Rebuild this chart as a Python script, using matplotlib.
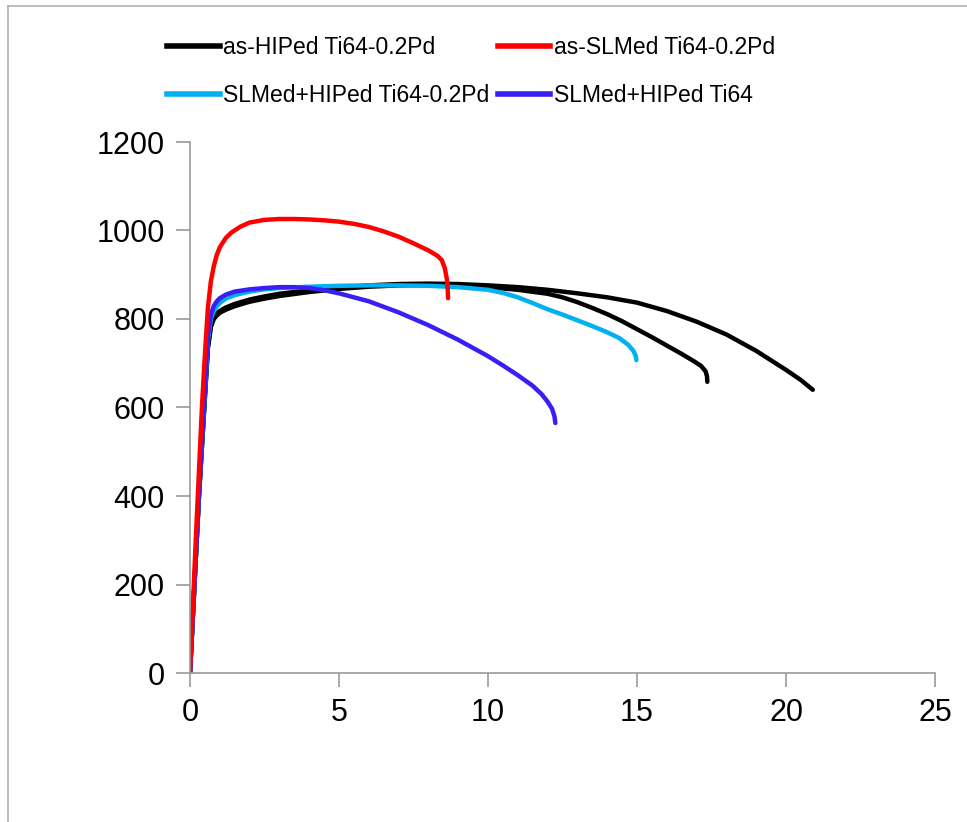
import matplotlib
matplotlib.use("Agg")
import matplotlib.pyplot as plt
from matplotlib.lines import Line2D

plt.rcParams['font.family'] = ['Liberation Sans', 'DejaVu Sans']

# as-HIPed Ti64-0.2Pd, specimen 1 (longer elongation)
hip1_strain = [0, 0.3, 0.6, 0.7, 0.8, 0.9, 1.0, 1.2, 1.5, 2, 2.5, 3, 4, 5, 6, 7, 8, 9, 10, 11, 12, 13, 14, 15, 16, 17, 18, 19, 20, 20.5, 20.9]
hip1_stress = [0, 400, 735, 785, 805, 813, 818, 826, 834, 844, 851, 857, 865, 871, 876, 879, 880, 879, 876, 872, 866, 858, 849, 837, 818, 794, 765, 728, 685, 662, 640]
# as-HIPed Ti64-0.2Pd, specimen 2
hip2_strain = [0, 0.3, 0.6, 0.7, 0.8, 0.9, 1.0, 1.2, 1.5, 2, 2.5, 3, 4, 5, 6, 7, 8, 9, 10, 11, 12, 12.5, 13, 13.5, 14, 14.5, 15, 15.5, 16, 16.5, 16.9, 17.15, 17.3, 17.35, 17.36]
hip2_stress = [0, 400, 735, 782, 800, 808, 814, 821, 829, 839, 846, 852, 861, 868, 873, 876, 877, 876, 872, 866, 857, 849, 838, 825, 811, 795, 777, 759, 740, 721, 705, 694, 682, 670, 658]
# as-SLMed Ti64-0.2Pd
slm_strain = [0, 0.2, 0.4, 0.5, 0.6, 0.7, 0.8, 0.9, 1.0, 1.2, 1.4, 1.7, 2, 2.5, 3, 3.5, 4, 4.5, 5, 5.5, 6, 6.5, 7, 7.5, 8, 8.3, 8.45, 8.55, 8.62, 8.65, 8.66]
slm_stress = [0, 310, 600, 720, 825, 885, 920, 945, 962, 983, 996, 1009, 1018, 1024, 1026, 1026, 1025, 1023, 1020, 1015, 1008, 998, 986, 971, 955, 943, 933, 915, 890, 865, 847]
# SLMed+HIPed Ti64-0.2Pd
slmhip_strain = [0, 0.3, 0.6, 0.7, 0.8, 0.9, 1.0, 1.2, 1.5, 2, 2.5, 3, 4, 5, 6, 7, 8, 9, 10, 10.5, 11, 11.5, 12, 12.5, 13, 13.5, 14, 14.4, 14.7, 14.88, 14.96, 14.98]
slmhip_stress = [0, 400, 750, 800, 818, 828, 836, 846, 854, 862, 867, 870, 873, 875, 876, 876, 875, 872, 866, 859, 849, 836, 822, 810, 797, 784, 770, 757, 742, 728, 716, 707]
# SLMed+HIPed Ti64
ti64_strain = [0, 0.3, 0.6, 0.7, 0.8, 0.9, 1.0, 1.2, 1.5, 2, 2.5, 3, 3.5, 4, 4.5, 5, 6, 7, 8, 9, 10, 10.5, 11, 11.5, 11.8, 12.0, 12.15, 12.23, 12.26]
ti64_stress = [0, 400, 760, 810, 830, 840, 847, 855, 862, 867, 870, 872, 872, 870, 865, 858, 840, 815, 786, 753, 716, 695, 673, 649, 630, 613, 597, 580, 565]

labels = ['as-HIPed Ti64-0.2Pd', 'as-SLMed Ti64-0.2Pd', 'SLMed+HIPed Ti64-0.2Pd', 'SLMed+HIPed Ti64']
colors = ['#000000', '#ff0000', '#00b0f0', '#3a1ff5']
x_ticks = [0, 5, 10, 15, 20, 25]
y_ticks = [0, 200, 400, 600, 800, 1000, 1200]

fig = plt.figure(figsize=(9.67, 8.22), dpi=100)
ax = fig.add_axes([190/967, 1-673/822, (935-190)/967, (673-142)/822])

lw = 3.2
kw = dict(lw=lw, solid_capstyle='round', solid_joinstyle='round')
ax.plot(hip1_strain, hip1_stress, color=colors[0], **kw)
ax.plot(hip2_strain, hip2_stress, color=colors[0], **kw)
ax.plot(slmhip_strain, slmhip_stress, color=colors[2], **kw)
ax.plot(ti64_strain, ti64_stress, color=colors[3], **kw)
ax.plot(slm_strain, slm_stress, color=colors[1], **kw)

ax.set_xlim(0, 25)
ax.set_ylim(0, 1200)
ax.set_xticks(x_ticks)
ax.set_yticks(y_ticks)
ax.tick_params(axis='both', direction='out', length=10, width=1.2, color='#999999',
               labelsize=22, pad=8)
for s in ['top', 'right']:
    ax.spines[s].set_visible(False)
for s in ['left', 'bottom']:
    ax.spines[s].set_color('#999999')
    ax.spines[s].set_linewidth(1.2)

# legend entries in row-major order (matplotlib fills columns first)
order = [0, 2, 1, 3]
handles = [Line2D([], [], color=colors[i], lw=4) for i in order]
fig.legend(handles, [labels[i] for i in order], loc='upper left',
           bbox_to_anchor=(158/967, 1-27/822),
           ncol=2, frameon=False, fontsize=16.5, handlelength=2.3, handletextpad=0.15,
           columnspacing=0.35, labelspacing=1.1, borderaxespad=0)

# figure border (top and left edges visible)
fig.add_artist(Line2D([8/967, 1], [1-6/822, 1-6/822], color='#b0b0b0', lw=1.2, transform=fig.transFigure))
fig.add_artist(Line2D([8/967, 8/967], [0, 1-6/822], color='#b0b0b0', lw=1.2, transform=fig.transFigure))

fig.savefig('out.png', dpi=100)
